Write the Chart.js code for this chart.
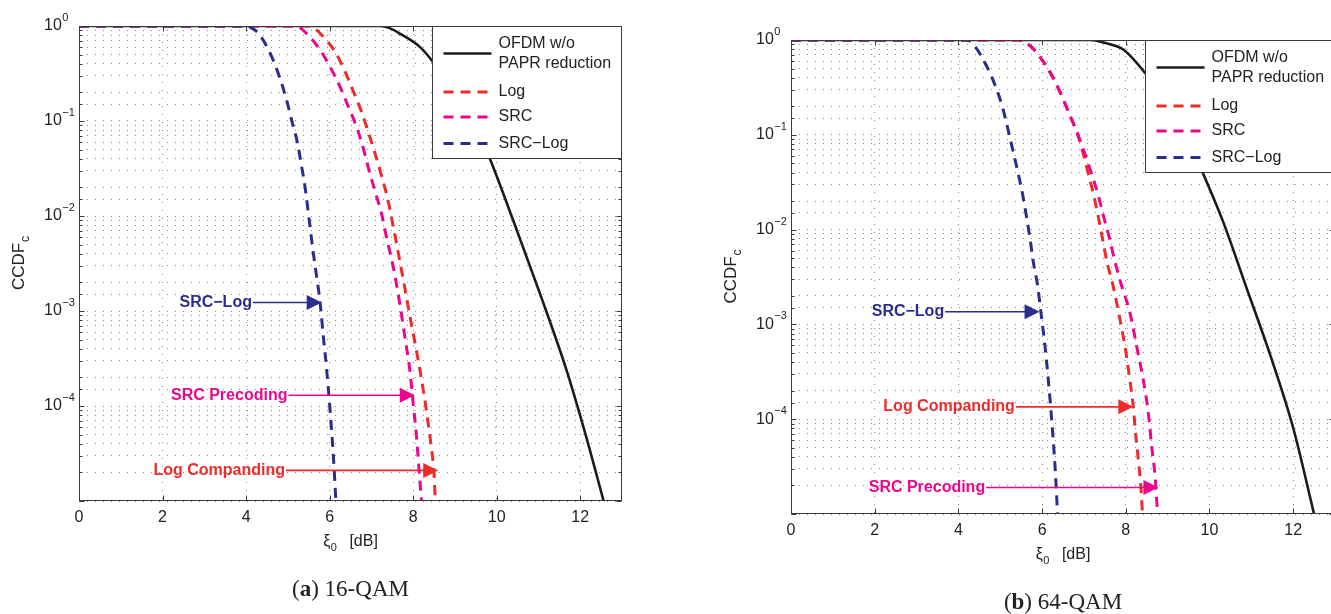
<!DOCTYPE html>
<html>
<head>
<meta charset="utf-8">
<title>CCDF of PAPR</title>
<script src="https://cdn.jsdelivr.net/npm/chart.js@4.4.1/dist/chart.umd.min.js"></script>
<style>
  body { margin: 0; width: 1331px; height: 614px; overflow: hidden; position: relative; background: #fff; }
  canvas { position: absolute; top: 0; }
  #qam16 { left: 0; }
  #qam64 { left: 700px; }
</style>
</head>
<body>
<canvas id="qam16" width="650" height="614"></canvas>
<canvas id="qam64" width="700" height="614"></canvas>
<script>
/* CCDF of the PAPR, two panels: (a) 16-QAM and (b) 64-QAM */

const xTicks = [0, 2, 4, 6, 8, 10, 12];
const yLabelled = [1, 1e-1, 1e-2, 1e-3, 1e-4];
const legendNames = [['OFDM w/o', 'PAPR reduction'], ['Log'], ['SRC'], ['SRC\u2212Log']];

// (a) 16-QAM, values
const ofdm16X = [0, 7.2, 7.45, 7.68, 8.16, 8.48, 9.0, 9.5, 9.83, 10.39, 11.03, 11.67, 12.14, 12.56];
const ofdm16Y = [1, 1, 0.944, 0.832, 0.603, 0.417, 0.200, 0.0871, 0.0407, 0.00912, 0.00155, 2.40e-4, 4.79e-5, 1e-5];
const log16X = [0, 5.45, 5.65, 5.81, 6.13, 6.37, 6.56, 6.77, 6.92, 7.08, 7.24, 7.38, 7.52, 7.64, 7.76, 7.92, 8.08, 8.20, 8.32, 8.43, 8.50, 8.53];
const log16Y = [1, 1, 0.933, 0.804, 0.537, 0.331, 0.209, 0.123, 0.0776, 0.0468, 0.0269, 0.0158, 0.00794, 0.00417, 0.00219, 8.91e-4, 3.80e-4, 1.91e-4, 8.71e-5, 3.80e-5, 1.91e-5, 1e-5];
const src16X = [0, 5.17, 5.30, 5.45, 5.77, 6.01, 6.25, 6.45, 6.61, 6.77, 6.92, 7.08, 7.24, 7.36, 7.52, 7.68, 7.80, 7.92, 8.00, 8.08, 8.14, 8.20];
const src16Y = [1, 1, 0.955, 0.832, 0.562, 0.372, 0.229, 0.141, 0.0955, 0.0589, 0.0331, 0.0186, 0.0107, 0.00603, 0.00295, 0.00120, 5.37e-4, 2.40e-4, 1.07e-4, 4.79e-5, 2.14e-5, 1e-5];
const srcLog16X = [0, 4.01, 4.15, 4.33, 4.61, 4.81, 4.97, 5.09, 5.23, 5.33, 5.41, 5.53, 5.61, 5.69, 5.77, 5.85, 5.93, 6.01, 6.09, 6.15];
const srcLog16Y = [1, 1, 0.944, 0.804, 0.479, 0.282, 0.166, 0.102, 0.0589, 0.0331, 0.0204, 0.00776, 0.00407, 0.00229, 0.00126, 5.37e-4, 2.40e-4, 9.12e-5, 2.95e-5, 1e-5];

// arrows in (a): text, series it points at, text end x, arrow tip x, ccdf level
const notes16Text = ['SRC\u2212Log', 'SRC Precoding', 'Log Companding'];
const notes16Series = [3, 2, 1];
const notes16From = [4.14, 4.99, 4.93];
const notes16To = [5.81, 8.04, 8.60];
const notes16At = [1.23e-3, 1.3e-4, 2.1e-5];

// (b) 64-QAM
const ofdm64X = [0, 7.15, 7.5, 7.94, 8.50, 9.0, 9.5, 9.82, 10.33, 10.89, 11.45, 12.00, 12.50];
const ofdm64Y = [1, 1, 0.933, 0.794, 0.427, 0.209, 0.0891, 0.0417, 0.0120, 0.00240, 4.79e-4, 8.13e-5, 1e-5];
const log64X = [0, 5.40, 5.71, 5.95, 6.19, 6.43, 6.63, 6.83, 6.99, 7.11, 7.24, 7.35, 7.45, 7.55, 7.69, 7.84, 7.98, 8.10, 8.18, 8.22, 8.30, 8.36, 8.40];
const log64Y = [1, 1, 0.871, 0.661, 0.457, 0.282, 0.174, 0.107, 0.0617, 0.0380, 0.0224, 0.0132, 0.00776, 0.00457, 0.00263, 0.00126, 5.89e-4, 2.57e-4, 1.35e-4, 8.32e-5, 3.72e-5, 1.95e-5, 1e-5];
const src64X = [0, 5.40, 5.71, 5.95, 6.19, 6.43, 6.63, 6.83, 7.00, 7.19, 7.35, 7.48, 7.61, 7.72, 7.88, 8.10, 8.26, 8.42, 8.54, 8.62, 8.70, 8.76];
const src64Y = [1, 1, 0.871, 0.661, 0.457, 0.282, 0.174, 0.107, 0.0676, 0.0380, 0.0224, 0.0132, 0.00813, 0.00501, 0.00275, 0.00132, 5.89e-4, 2.57e-4, 1.15e-4, 5.13e-5, 2.51e-5, 1e-5];
const srcLog64X = [0, 4.20, 4.40, 4.68, 4.88, 5.06, 5.19, 5.31, 5.43, 5.54, 5.63, 5.71, 5.79, 5.89, 5.98, 6.07, 6.15, 6.23, 6.31, 6.37];
const srcLog64Y = [1, 1, 0.851, 0.525, 0.331, 0.191, 0.112, 0.0661, 0.0389, 0.0229, 0.0135, 0.00813, 0.00457, 0.00263, 0.00126, 5.89e-4, 2.57e-4, 9.77e-5, 3.16e-5, 1e-5];

const notes64Text = ['SRC\u2212Log', 'Log Companding', 'SRC Precoding'];
const notes64Series = [3, 1, 2];
const notes64From = [3.66, 5.35, 4.64];
const notes64To = [5.94, 8.18, 8.78];
const notes64At = [1.36e-3, 1.35e-4, 1.9e-5];


const colors = ['#1b1b1b', '#ee2b2b', '#ec068d', '#2b2d8c'];
const SANS = '"Liberation Sans", Arial, Helvetica, sans-serif';
Chart.defaults.font.family = SANS;
Chart.defaults.color = '#222';

function isDecade(v) {
  const e = Math.log10(v);
  return Math.abs(e - Math.round(e)) < 1e-6;
}

function decorPlugin(notes, caption) {
  return {
    id: 'decor',
    afterDatasetsDraw(chart) {
      const ctx = chart.ctx, a = chart.chartArea;
      const x = chart.scales.x, y = chart.scales.y;
      const L = Math.round(a.left) + 0.5, R = Math.round(a.right) - 0.5;
      const T = Math.round(a.top) + 0.5, B = Math.round(a.bottom) - 0.5;
      ctx.save();

      // box and inward ticks, matlab style
      ctx.setLineDash([]);
      ctx.strokeStyle = '#3a3a3a';
      ctx.lineWidth = 1;
      ctx.strokeRect(L, T, R - L, B - T);
      ctx.beginPath();
      x.ticks.forEach(t => {
        const p = Math.round(x.getPixelForValue(t.value)) + 0.5;
        ctx.moveTo(p, B); ctx.lineTo(p, B - 5);
        ctx.moveTo(p, T); ctx.lineTo(p, T + 5);
      });
      y.ticks.forEach(t => {
        const p = Math.round(y.getPixelForValue(t.value)) + 0.5;
        const len = isDecade(t.value) ? 5 : 3;
        ctx.moveTo(L, p); ctx.lineTo(L + len, p);
        ctx.moveTo(R, p); ctx.lineTo(R - len, p);
      });
      ctx.stroke();

      // y tick labels 10^k
      ctx.fillStyle = '#222';
      ctx.textAlign = 'left';
      ctx.textBaseline = 'middle';
      yLabelled.forEach(v => {
        const py = y.getPixelForValue(v);
        const e = Math.round(Math.log10(v));
        const lx = a.left - 35;
        ctx.font = '16px ' + SANS;
        ctx.fillText('10', lx, py);
        const w = ctx.measureText('10').width;
        ctx.font = '11px ' + SANS;
        ctx.fillText(e === 0 ? '0' : '\u2212' + (-e), lx + w + 0.5, py - 8);
      });

      // axis titles
      const cx = (a.left + a.right) / 2;
      ctx.font = '16px ' + SANS;
      const w1 = ctx.measureText('\u03be').width;
      ctx.font = '11px ' + SANS;
      const w2 = ctx.measureText('0').width;
      ctx.font = '16px ' + SANS;
      const w3 = ctx.measureText('[dB]').width;
      const gap = 13;
      let tx = cx - (w1 + w2 + gap + w3) / 2;
      const ty = a.bottom + 41;
      ctx.fillText('\u03be', tx, ty);
      ctx.font = '11px ' + SANS;
      ctx.fillText('0', tx + w1 + 0.5, ty + 6);
      ctx.font = '16px ' + SANS;
      ctx.fillText('[dB]', tx + w1 + w2 + gap, ty);

      ctx.save();
      ctx.translate(a.left - 60, (a.top + a.bottom) / 2);
      ctx.rotate(-Math.PI / 2);
      ctx.font = '17px ' + SANS;
      const c1 = ctx.measureText('CCDF').width;
      ctx.font = '12px ' + SANS;
      const c2 = ctx.measureText('c').width;
      ctx.font = '17px ' + SANS;
      ctx.fillText('CCDF', -(c1 + c2) / 2, 0);
      ctx.font = '12px ' + SANS;
      ctx.fillText('c', -(c1 + c2) / 2 + c1 + 1, 7);
      ctx.restore();

      // arrows with labels
      notes.text.forEach((txt, i) => {
        const col = colors[notes.series[i]];
        const py = y.getPixelForValue(notes.at[i]);
        const x0 = x.getPixelForValue(notes.from[i]);
        const x1 = x.getPixelForValue(notes.to[i]);
        ctx.fillStyle = col;
        ctx.strokeStyle = col;
        ctx.font = 'bold 16px ' + SANS;
        ctx.textAlign = 'right';
        ctx.fillText(txt, x0, py);
        ctx.lineWidth = 1.6;
        ctx.beginPath();
        ctx.moveTo(x0 + 1, py);
        ctx.lineTo(x1 - 12, py);
        ctx.stroke();
        ctx.beginPath();
        ctx.moveTo(x1, py);
        ctx.lineTo(x1 - 15, py - 7.5);
        ctx.lineTo(x1 - 15, py + 7.5);
        ctx.closePath();
        ctx.fill();
      });

      // legend box in the top right corner
      const lw = 189, lh = 132;
      const lx = R - lw, ly = T;
      ctx.fillStyle = '#fff';
      ctx.fillRect(lx, ly, lw, lh);
      ctx.strokeStyle = '#3a3a3a';
      ctx.lineWidth = 1;
      ctx.strokeRect(lx, ly, lw, lh);
      const rows = [27, 65.5, 90.5, 117];
      ctx.textAlign = 'left';
      ctx.font = '16px ' + SANS;
      chart.data.datasets.forEach((ds, i) => {
        const ry = ly + rows[i];
        ctx.strokeStyle = ds.borderColor;
        ctx.lineWidth = ds.borderWidth;
        ctx.setLineDash(ds.borderDash);
        ctx.beginPath();
        ctx.moveTo(lx + 11, ry);
        ctx.lineTo(lx + 59, ry);
        ctx.stroke();
        ctx.setLineDash([]);
        ctx.fillStyle = '#222';
        const names = legendNames[i];
        names.forEach((n, k) => {
          ctx.fillText(n, lx + 66, ry + (k - (names.length - 1) / 2) * 20);
        });
      });

      // caption under the panel
      ctx.fillStyle = '#222';
      ctx.textAlign = 'left';
      ctx.font = '23px "Liberation Serif", "Times New Roman", serif';
      const p1 = ctx.measureText('(').width;
      ctx.font = 'bold 23px "Liberation Serif", "Times New Roman", serif';
      const p2 = ctx.measureText(caption[0]).width;
      ctx.font = '23px "Liberation Serif", "Times New Roman", serif';
      const p3 = ctx.measureText(caption[1]).width;
      let qx = cx - (p1 + p2 + p3) / 2;
      const qy = a.bottom + 89;
      ctx.fillText('(', qx, qy);
      ctx.font = 'bold 23px "Liberation Serif", "Times New Roman", serif';
      ctx.fillText(caption[0], qx + p1, qy);
      ctx.font = '23px "Liberation Serif", "Times New Roman", serif';
      ctx.fillText(caption[1], qx + p1 + p2, qy);

      ctx.restore();
    }
  };
}

function pts(xs, ys) {
  return xs.map((v, i) => ({x: v, y: ys[i]}));
}

function makeChart(id, series, notes, caption, box) {
  const datasets = series.map((s, i) => ({
    label: legendNames[i].join(' '),
    data: pts(s[0], s[1]),
    borderColor: colors[i],
    borderWidth: i === 0 ? 2.6 : 3,
    borderDash: i === 0 ? [] : [10, 7],
    borderDashOffset: 0,
    pointRadius: 0,
    fill: false,
    cubicInterpolationMode: 'monotone',
    order: 4 - i
  }));
  const gridOpts = {color: '#8c8c8c', lineWidth: 1, drawTicks: false};
  return new Chart(document.getElementById(id), {
    type: 'line',
    data: {datasets: datasets},
    options: {
      responsive: false,
      animation: false,
      devicePixelRatio: 1,
      layout: {padding: {left: 0, top: box.top, right: box.right, bottom: 0}},
      plugins: {legend: {display: false}, tooltip: {enabled: false}},
      scales: {
        x: {
          type: 'linear', min: 0, max: 13,
          afterBuildTicks: s => { s.ticks = xTicks.map(v => ({value: v})); },
          afterFit: s => { s.height = box.xh; },
          grid: gridOpts,
          border: {display: false, dash: [1, 7]},
          ticks: {font: {size: 16}, padding: 7, maxRotation: 0, autoSkip: false, color: '#222'}
        },
        y: {
          type: 'logarithmic', min: 1e-5, max: 1,
          afterFit: s => { s.width = box.yw; },
          grid: gridOpts,
          border: {display: false, dash: [1, 7]},
          ticks: {display: false}
        }
      }
    },
    plugins: [decorPlugin(notes, caption)]
  });
}

makeChart('qam16',
  [[ofdm16X, ofdm16Y], [log16X, log16Y], [src16X, src16Y], [srcLog16X, srcLog16Y]],
  {text: notes16Text, series: notes16Series, from: notes16From, to: notes16To, at: notes16At},
  ['a', ') 16-QAM'],
  {top: 26, right: 28, yw: 79, xh: 113});

makeChart('qam64',
  [[ofdm64X, ofdm64Y], [log64X, log64Y], [src64X, src64Y], [srcLog64X, srcLog64Y]],
  {text: notes64Text, series: notes64Series, from: notes64From, to: notes64To, at: notes64At},
  ['b', ') 64-QAM'],
  {top: 40, right: 65, yw: 91, xh: 100});
</script>
</body>
</html>
